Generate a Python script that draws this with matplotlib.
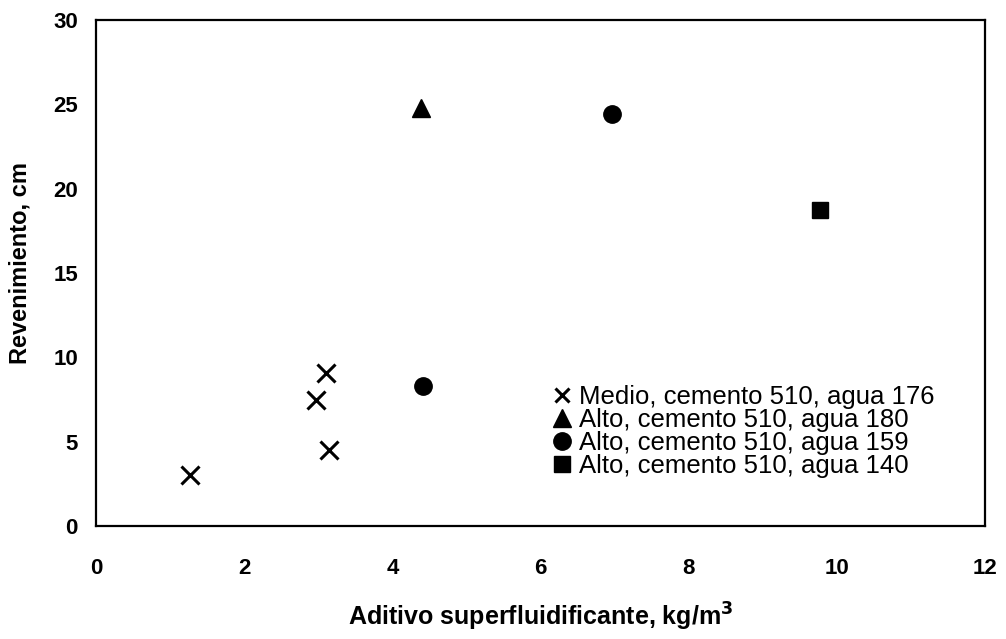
import matplotlib
matplotlib.use("Agg")
import matplotlib.pyplot as plt

# Data
medio176_x = [1.27, 2.97, 3.11, 3.15]
medio176_y = [3.0, 7.5, 9.1, 4.5]
alto180_x = [4.39]
alto180_y = [24.8]
alto159_x = [4.41, 6.96]
alto159_y = [8.3, 24.45]
alto140_x = [9.77]
alto140_y = [18.75]

labels = ["Medio, cemento 510, agua 176",
          "Alto, cemento 510, agua 180",
          "Alto, cemento 510, agua 159",
          "Alto, cemento 510, agua 140"]
xticks = [0, 2, 4, 6, 8, 10, 12]
yticks = [0, 5, 10, 15, 20, 25, 30]

plt.rcParams['font.family'] = ['Liberation Sans', 'DejaVu Sans']

fig = plt.figure(figsize=(10.06, 6.39), dpi=100)
ax = fig.add_axes([96/1006, 1-526/639, (985-96)/1006, (526-20)/639])

ax.plot(medio176_x, medio176_y, linestyle='none', marker='x', ms=13, mew=2.2, color='black', label=labels[0])
ax.plot(alto180_x, alto180_y, linestyle='none', marker='^', ms=13, color='black', label=labels[1])
ax.plot(alto159_x, alto159_y, linestyle='none', marker='o', ms=12.5, color='black', label=labels[2])
ax.plot(alto140_x, alto140_y, linestyle='none', marker='s', ms=12, color='black', label=labels[3])

ax.set_xlim(0, 12)
ax.set_ylim(0, 30)
ax.set_xticks(xticks)
ax.set_yticks(yticks)
ax.tick_params(length=0, labelsize=16)
ax.tick_params(axis='x', pad=23)
ax.tick_params(axis='y', pad=13)
for lab in ax.get_xticklabels() + ax.get_yticklabels():
    lab.set_fontweight('bold')
for s in ax.spines.values():
    s.set_linewidth(1.6)

ax.set_xlabel("Aditivo superfluidificante, kg/m$^\\mathbf{3}$", fontsize=18, fontweight='bold', labelpad=16)
ax.set_ylabel("Revenimiento, cm", fontsize=17, fontweight='bold')
ax.yaxis.set_label_coords((32 - 96) / 889, (526 - 263) / 506)

leg = ax.legend(loc='center', bbox_to_anchor=(0.728, 0.186), frameon=False, fontsize=18.5,
                handletextpad=0.25, handlelength=0.8, labelspacing=-0.04, borderpad=0.2,
                markerscale=1.0)
leg.legend_handles[0].set_markersize(10)

fig.savefig("out.png", dpi=100)
